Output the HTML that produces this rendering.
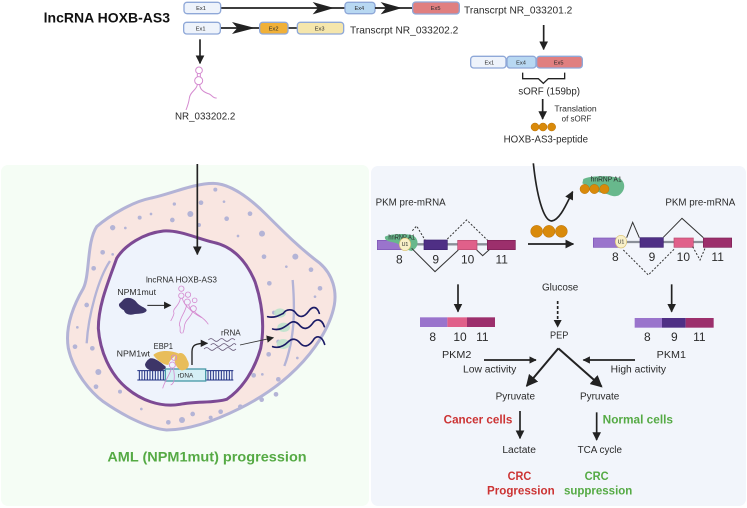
<!DOCTYPE html>
<html><head><meta charset="utf-8"><style>
html,body{margin:0;padding:0;background:#fff}
svg{display:block}
text{font-family:"Liberation Sans",sans-serif;fill:#2a2a2a}
</style></head><body>
<svg width="747" height="508" viewBox="0 0 747 508" xmlns="http://www.w3.org/2000/svg">
<defs>
<marker id="a" viewBox="0 0 10 10" refX="9" refY="5" markerWidth="22" markerHeight="22" markerUnits="userSpaceOnUse" orient="auto"><path d="M0,0L10,5L0,10z" fill="#222"/></marker>
<marker id="b" viewBox="0 0 10 10" refX="9" refY="5" markerWidth="26" markerHeight="26" markerUnits="userSpaceOnUse" orient="auto"><path d="M0,0L10,5L0,10z" fill="#222"/></marker>
<marker id="c" viewBox="0 0 10 10" refX="9" refY="5" markerWidth="36" markerHeight="36" markerUnits="userSpaceOnUse" orient="auto"><path d="M0,0L10,5L0,10z" fill="#222"/></marker>
</defs>
<rect x="1" y="165" width="368" height="341" rx="7" fill="#f5fdf5"/>
<rect x="371" y="166" width="375" height="340" rx="7" fill="#f2f5fb"/>

<!-- zoom 1 -->
<g transform="scale(.33333)">
<text x="131" y="68" font-size="42" font-weight="700" textLength="379" lengthAdjust="spacingAndGlyphs" style="fill:#111">lncRNA HOXB-AS3</text>
<g stroke="#222" stroke-width="5" fill="none">
<path d="M660,24H1036"/><path d="M660,84H780"/><path d="M864,84H892"/>
</g>
<path d="M938,6L1002,24L938,43L954,24z M696,66L765,84L696,102L712,84z" fill="#222"/>
<g stroke="#8fa8d8" stroke-width="4">
<rect x="552" y="7" width="110" height="34" rx="9" fill="#eef3fb"/>
<rect x="551" y="67" width="110" height="35" rx="9" fill="#eef3fb"/>
<rect x="1035" y="7" width="90" height="34" rx="9" fill="#b8d8f2"/>
<rect x="779" y="67" width="85" height="35" rx="9" fill="#f0b038"/>
<rect x="892" y="67" width="139" height="35" rx="9" fill="#f5e6ac"/>
</g>
<g font-size="17" text-anchor="middle">
<text x="603" y="30">Ex1</text><text x="602" y="91">Ex1</text><text x="1078" y="30">Ex4</text><text x="821" y="92">Ex2</text><text x="959" y="92">Ex3</text>
</g>
<text x="1050" y="100" font-size="31" textLength="325" lengthAdjust="spacingAndGlyphs">Transcrpt  NR_033202.2</text>
<path d="M600,118V190" stroke="#222" stroke-width="5" marker-end="url(#b)" fill="none"/>
<g stroke="#d58bd0" stroke-width="3" fill="none">
<circle cx="597" cy="211" r="10"/><circle cx="596" cy="242" r="12"/>
<path d="M592,221V231M601,221V231M592,254C590,270 570,275 568,295C566,310 562,320 558,330M599,254C600,270 615,278 628,282C636,286 640,296 650,294"/>
</g>
<text x="525" y="358" font-size="31" textLength="181" lengthAdjust="spacingAndGlyphs">NR_033202.2</text>
</g>

<!-- zoom 2 -->
<g transform="translate(370,0) scale(.33333)">
<path d="M15,24H130" stroke="#222" stroke-width="5"/>
<path d="M32,6L96,24L32,43L48,24z" fill="#222"/>
<rect x="128" y="6" width="140" height="36" rx="9" fill="#e07f80" stroke="#8fa8d8" stroke-width="4"/>
<text x="197" y="30" font-size="17" text-anchor="middle">Ex5</text>
<text x="282" y="41" font-size="31" textLength="325" lengthAdjust="spacingAndGlyphs">Transcrpt  NR_033201.2</text>
<path d="M521,75V148" stroke="#222" stroke-width="5" marker-end="url(#b)" fill="none"/>
<g stroke="#8fa8d8" stroke-width="4">
<rect x="302" y="169" width="106" height="35" rx="9" fill="#eef3fb"/>
<rect x="411" y="169" width="87" height="35" rx="9" fill="#b8d8f2"/>
<rect x="500" y="169" width="137" height="35" rx="9" fill="#e07f80"/>
</g>
<g font-size="17" text-anchor="middle"><text x="358" y="193">Ex1</text><text x="453" y="193">Ex4</text><text x="566" y="193">Ex5</text></g>
<path d="M458,218V236H505L520,250L535,236H584V218" fill="none" stroke="#222" stroke-width="4"/>
<text x="445" y="284" font-size="31" textLength="185" lengthAdjust="spacingAndGlyphs">sORF (159bp)</text>
<path d="M518,297V357" stroke="#222" stroke-width="5" marker-end="url(#b)" fill="none"/>
<text x="553" y="335" font-size="26" textLength="127" lengthAdjust="spacingAndGlyphs">Translation</text>
<text x="575" y="364" font-size="26" textLength="89" lengthAdjust="spacingAndGlyphs">of sORF</text>
<g fill="#d98a0a" stroke="#b87008" stroke-width="1.5"><circle cx="495" cy="381" r="12"/><circle cx="519" cy="381" r="12"/><circle cx="545" cy="381" r="12"/></g>
<text x="401" y="428" font-size="31" textLength="253" lengthAdjust="spacingAndGlyphs">HOXB-AS3-peptide</text>
</g>

<!-- zoom 3: left panel -->
<g transform="translate(0,165) scale(.33333)">
<path d="M290,185C330,150 400,110 450,100C510,88 580,55 640,55C690,55 750,100 800,150C850,200 900,250 960,295C1000,330 1010,380 1003,420C990,490 940,560 890,610C840,660 780,700 720,730C650,765 570,795 500,795C440,790 360,745 310,710C270,680 220,620 205,550C195,490 215,430 250,370C270,330 260,230 290,185z" fill="#f9e6e1" stroke="#b3b3d6" stroke-width="9"/>
<g fill="#b4b4d6">
<circle cx="646" cy="74" r="6"/><circle cx="672" cy="110" r="4"/><circle cx="603" cy="113" r="7"/><circle cx="523" cy="117" r="5"/><circle cx="571" cy="147" r="9"/><circle cx="453" cy="147" r="4"/><circle cx="419" cy="158" r="6"/><circle cx="517" cy="165" r="7"/><circle cx="680" cy="161" r="7"/><circle cx="750" cy="146" r="7"/><circle cx="338" cy="188" r="8"/><circle cx="376" cy="189" r="4"/><circle cx="597" cy="180" r="6"/><circle cx="714" cy="213" r="4"/><circle cx="786" cy="206" r="9"/><circle cx="792" cy="275" r="7"/><circle cx="886" cy="275" r="9"/><circle cx="859" cy="305" r="4"/><circle cx="933" cy="314" r="7"/><circle cx="808" cy="355" r="7"/><circle cx="960" cy="370" r="7"/><circle cx="945" cy="395" r="4"/><circle cx="308" cy="262" r="7"/><circle cx="338" cy="268" r="4"/><circle cx="281" cy="310" r="7"/><circle cx="260" cy="420" r="7"/><circle cx="232" cy="487" r="4"/><circle cx="225" cy="545" r="7"/><circle cx="277" cy="550" r="7"/><circle cx="295" cy="621" r="9"/><circle cx="288" cy="665" r="7"/><circle cx="360" cy="680" r="6"/><circle cx="424" cy="732" r="4"/><circle cx="505" cy="772" r="7"/><circle cx="546" cy="765" r="9"/><circle cx="578" cy="747" r="7"/><circle cx="632" cy="758" r="6"/><circle cx="662" cy="740" r="7"/><circle cx="721" cy="725" r="7"/><circle cx="785" cy="704" r="7"/><circle cx="828" cy="688" r="7"/><circle cx="835" cy="643" r="7"/><circle cx="761" cy="631" r="7"/><circle cx="787" cy="628" r="4"/><circle cx="806" cy="568" r="7"/><circle cx="892" cy="579" r="4"/><circle cx="835" cy="530" r="6"/><circle cx="822" cy="443" r="6"/>
</g>
<path d="M330,288C295,340 265,450 260,535M878,345C885,430 885,520 853,603" fill="none" stroke="#b3b3d6" stroke-width="7"/>
<path d="M350,280C375,240 430,205 490,198C540,195 590,220 640,232C700,245 740,290 765,350C785,410 795,480 782,550C765,610 730,670 680,703C640,715 590,708 540,718C480,728 420,705 375,665C330,625 300,560 295,490C295,420 325,350 350,280z" fill="#eef3fc" stroke="#7d4a94" stroke-width="9"/>
<path d="M592,-3V268" stroke="#222" stroke-width="5" fill="none" marker-end="url(#b)"/>
<text x="438" y="353" font-size="26" textLength="213" lengthAdjust="spacingAndGlyphs">lncRNA HOXB-AS3</text>
<text x="352" y="390" font-size="26" textLength="116" lengthAdjust="spacingAndGlyphs">NPM1mut</text>
<path d="M372,402C385,395 400,400 410,412C420,425 440,428 440,436C438,445 420,446 405,447C390,452 375,448 372,436C360,430 352,420 360,414C365,410 368,406 372,402z" fill="#3d3568"/>
<path d="M442,421H512" stroke="#222" stroke-width="3" marker-end="url(#a)" fill="none"/>
<g stroke="#d58bd0" stroke-width="2.5" fill="none">
<circle cx="544" cy="371" r="8"/><circle cx="544" cy="392" r="8"/><circle cx="564" cy="389" r="8"/><circle cx="562" cy="411" r="9"/><circle cx="584" cy="406" r="7"/><circle cx="580" cy="431" r="9"/>
<path d="M541,400C538,425 515,430 522,445C520,455 515,462 512,468M547,400C552,420 570,435 580,440M560,420C555,445 540,455 538,480C545,490 535,500 545,505M566,420C572,440 590,450 605,458M578,440C570,460 555,465 553,485C553,495 550,500 548,505M584,440C590,450 610,455 625,478"/>
</g>
<text x="663" y="512" font-size="26" textLength="59" lengthAdjust="spacingAndGlyphs">rRNA</text>
<g fill="none" stroke="#5a4a6a" stroke-width="2.2">
<path d="M625,525q8,-8 16,0t16,0t16,0t16,0t16,0"/><path d="M632,540q8,-8 16,0t16,0t16,0t16,0t12,0"/><path d="M612,552q8,-8 16,0t16,0t16,0t16,0t16,0t16,0"/>
</g>
<path d="M576,600V560C576,540 585,535 622,535" fill="none" stroke="#222" stroke-width="4" marker-end="url(#a)"/>
<path d="M720,540L820,518" stroke="#333" stroke-width="2.5" marker-end="url(#a)" fill="none"/>
<g stroke="#1c2d80" stroke-width="3">
<path d="M412,617H700M412,645H700" fill="none"/>
<path d="M418,617V645M426,617V645M434,617V645M442,617V645M450,617V645M458,617V645M466,617V645M474,617V645M482,617V645M490,617V645M624,617V645M632,617V645M640,617V645M648,617V645M656,617V645M664,617V645M672,617V645M680,617V645M688,617V645M696,617V645" fill="none"/>
</g>
<rect x="496" y="612" width="121" height="36" fill="#d5eff5" stroke="#4a9aa8" stroke-width="4"/>
<text x="533" y="637" font-size="18" textLength="47" lengthAdjust="spacingAndGlyphs">rDNA</text>
<text x="461" y="552" font-size="26" textLength="58" lengthAdjust="spacingAndGlyphs">EBP1</text>
<text x="350" y="574" font-size="26" textLength="100" lengthAdjust="spacingAndGlyphs">NPM1wt</text>
<path d="M450,580C465,578 480,590 497,605C500,615 480,618 465,618C450,618 435,610 435,598C438,590 442,585 450,580z" fill="#3d3568"/>
<path d="M460,570C475,555 510,555 535,565C525,575 510,580 505,600C490,600 470,585 460,570z" fill="#e8bd5a"/>
<path d="M525,575C540,555 555,565 562,585C572,600 565,615 545,616C530,612 520,590 525,575z" fill="#e8bd5a"/>
<g stroke="#d58bd0" stroke-width="2.5" fill="none"><circle cx="522" cy="578" r="8"/><circle cx="517" cy="600" r="9"/><path d="M514,610C510,630 495,645 488,670M520,610C525,635 525,655 512,660"/></g>
<g fill="#bfe3cd" opacity=".9"><ellipse cx="840" cy="444" rx="18" ry="14"/><ellipse cx="851" cy="487" rx="19" ry="14"/><ellipse cx="850" cy="537" rx="20" ry="15"/></g>
<g fill="none" stroke="#1b1b66" stroke-width="5" stroke-linecap="round">
<path d="M803,455C825,460 840,450 850,445C860,430 880,432 888,445C898,458 912,458 925,440C935,425 950,420 958,445"/>
<path d="M818,492C840,498 855,485 865,478C878,465 890,470 900,482C912,495 925,492 938,475C948,460 965,460 973,485"/>
<path d="M818,545C840,552 855,540 865,530C878,518 890,522 900,534C912,548 925,545 938,528C948,510 965,510 974,538"/>
</g>
<text x="322" y="890" font-size="41" font-weight="700" textLength="598" lengthAdjust="spacingAndGlyphs" style="fill:#55aa44">AML (NPM1mut)  progression</text>
</g>

<!-- zoom 4: right upper -->
<g transform="translate(370,165) scale(.33333)">
<text x="17" y="122" font-size="30" textLength="210" lengthAdjust="spacingAndGlyphs">PKM pre-mRNA</text>
<text x="886" y="122" font-size="30" textLength="210" lengthAdjust="spacingAndGlyphs">PKM pre-mRNA</text>
<path d="M490,-5C500,90 520,168 545,168C570,165 590,115 608,80" fill="none" stroke="#222" stroke-width="5" marker-end="url(#b)"/>
<path d="M640,42C660,32 720,30 750,40C770,55 765,80 745,92C725,98 715,85 700,85C670,80 650,60 637,55z" fill="#68b88c"/>
<g fill="#d98a0a" stroke="#b87008" stroke-width="1.5"><circle cx="644" cy="72" r="14"/><circle cx="673" cy="72" r="14"/><circle cx="703" cy="72" r="14"/><circle cx="500" cy="199" r="18"/><circle cx="537" cy="199" r="18"/><circle cx="574" cy="199" r="18"/></g>
<text x="662" y="49" font-size="22" textLength="93" lengthAdjust="spacingAndGlyphs">hnRNP A1</text>
<path d="M474,237H610" stroke="#222" stroke-width="5" marker-end="url(#b)" fill="none"/>
<!-- left pre-mRNA -->
<path d="M110,238H352" stroke="#8a8f98" stroke-width="7"/>
<rect x="22" y="226" width="80" height="28" fill="#9a74cc" stroke="#7d55b5" stroke-width="2"/>
<rect x="162" y="225" width="70" height="29" fill="#4f2f85" stroke="#3d2270" stroke-width="2"/>
<rect x="263" y="226" width="58" height="28" fill="#e0608a" stroke="#b84a70" stroke-width="2"/>
<rect x="352" y="226" width="84" height="28" fill="#9c2f6c" stroke="#7d2055" stroke-width="2"/>
<path d="M45,215C65,205 110,205 130,212C150,225 145,250 125,258C105,255 90,235 70,232C55,230 42,225 45,215z" fill="#68b88c"/>
<text x="55" y="224" font-size="22" textLength="80" lengthAdjust="spacingAndGlyphs">hnRNP A1</text>
<ellipse cx="105" cy="238" rx="17" ry="19" fill="#f8f0c8" stroke="#d8c070" stroke-width="2"/>
<text x="105" y="243" font-size="16" text-anchor="middle">U1</text>
<path d="M125,250L195,320L265,255M320,255L338,272L358,254" fill="none" stroke="#333" stroke-width="3"/>
<path d="M127,197L140,183L165,225M232,222L290,165L352,225" fill="none" stroke="#333" stroke-width="3" stroke-dasharray="6 5"/>
<g font-size="36" text-anchor="middle"><text x="88" y="296">8</text><text x="197" y="296">9</text><text x="293" y="296">10</text><text x="395" y="296">11</text>
<text x="736" y="288">8</text><text x="846" y="288">9</text><text x="940" y="288">10</text><text x="1043" y="288">11</text></g>
<!-- right pre-mRNA -->
<path d="M760,231H1000" stroke="#8a8f98" stroke-width="7"/>
<rect x="670" y="219" width="78" height="28" fill="#9a74cc" stroke="#7d55b5" stroke-width="2"/>
<rect x="810" y="218" width="70" height="29" fill="#4f2f85" stroke="#3d2270" stroke-width="2"/>
<rect x="912" y="219" width="58" height="28" fill="#e0608a" stroke="#b84a70" stroke-width="2"/>
<rect x="1000" y="219" width="85" height="28" fill="#9c2f6c" stroke="#7d2055" stroke-width="2"/>
<ellipse cx="753" cy="230" rx="17" ry="19" fill="#f8f0c8" stroke="#d8c070" stroke-width="2"/>
<text x="753" y="235" font-size="16" text-anchor="middle">U1</text>
<path d="M770,218L788,172L808,218M880,217L936,160L1000,218" fill="none" stroke="#333" stroke-width="3"/>
<path d="M760,255L835,330L915,250M968,245L990,285L1005,250" fill="none" stroke="#333" stroke-width="3" stroke-dasharray="6 5"/>
<path d="M264,358V440" stroke="#222" stroke-width="5" fill="none" marker-end="url(#b)"/>
<path d="M905,358V440" stroke="#222" stroke-width="5" fill="none" marker-end="url(#b)"/>
<text x="516" y="376" font-size="30" textLength="109" lengthAdjust="spacingAndGlyphs">Glucose</text>
<path d="M563,408V465" stroke="#222" stroke-width="5" stroke-dasharray="9 6" fill="none"/>
<path d="M551,465H575L563,488z" fill="#222"/>
<rect x="150" y="457" width="82" height="29" fill="#9a74cc"/><rect x="232" y="457" width="59" height="29" fill="#e0608a"/><rect x="291" y="457" width="84" height="29" fill="#9c2f6c"/>
<rect x="794" y="459" width="82" height="29" fill="#9a74cc"/><rect x="876" y="459" width="71" height="29" fill="#4f2f85"/><rect x="947" y="459" width="84" height="29" fill="#9c2f6c"/>
</g>

<!-- zoom 5: right lower -->
<g transform="translate(370,330) scale(.33333)">
<g font-size="36" text-anchor="middle"><text x="188" y="33">8</text><text x="270" y="33">10</text><text x="337" y="33">11</text><text x="832" y="33">8</text><text x="913" y="33">9</text><text x="988" y="33">11</text></g>
<text x="540" y="26" font-size="30" textLength="55" lengthAdjust="spacingAndGlyphs">PEP</text>
<text x="216" y="84" font-size="30" textLength="88" lengthAdjust="spacingAndGlyphs">PKM2</text>
<text x="860" y="84" font-size="30" textLength="88" lengthAdjust="spacingAndGlyphs">PKM1</text>
<path d="M342,90H498" stroke="#222" stroke-width="5" fill="none" marker-end="url(#a)"/>
<path d="M795,90H640" stroke="#222" stroke-width="5" fill="none" marker-end="url(#a)"/>
<text x="279" y="127" font-size="30" textLength="160" lengthAdjust="spacingAndGlyphs">Low activity</text>
<text x="722" y="127" font-size="30" textLength="166" lengthAdjust="spacingAndGlyphs">High activity</text>
<path d="M565,55L470,168" stroke="#222" stroke-width="6" fill="none" marker-end="url(#c)"/>
<path d="M565,55L695,170" stroke="#222" stroke-width="6" fill="none" marker-end="url(#c)"/>
<text x="377" y="208" font-size="30" textLength="118" lengthAdjust="spacingAndGlyphs">Pyruvate</text>
<text x="630" y="208" font-size="30" textLength="118" lengthAdjust="spacingAndGlyphs">Pyruvate</text>
<text x="221" y="281" font-size="36" font-weight="700" textLength="206" lengthAdjust="spacingAndGlyphs" style="fill:#cc3333">Cancer cells</text>
<text x="698" y="281" font-size="36" font-weight="700" textLength="211" lengthAdjust="spacingAndGlyphs" style="fill:#55aa44">Normal cells</text>
<path d="M450,243V325" stroke="#222" stroke-width="5" fill="none" marker-end="url(#b)"/>
<path d="M680,247V330" stroke="#222" stroke-width="5" fill="none" marker-end="url(#b)"/>
<text x="397" y="369" font-size="30" textLength="101" lengthAdjust="spacingAndGlyphs">Lactate</text>
<text x="623" y="369" font-size="30" textLength="133" lengthAdjust="spacingAndGlyphs">TCA cycle</text>
<g font-size="37" font-weight="700">
<text x="413" y="450" textLength="71" lengthAdjust="spacingAndGlyphs" style="fill:#cc3333">CRC</text>
<text x="351" y="493" textLength="203" lengthAdjust="spacingAndGlyphs" style="fill:#cc3333">Progression</text>
<text x="644" y="450" textLength="72" lengthAdjust="spacingAndGlyphs" style="fill:#55aa44">CRC</text>
<text x="582" y="493" textLength="205" lengthAdjust="spacingAndGlyphs" style="fill:#55aa44">suppression</text>
</g>
</g>
</svg>
</body></html>
